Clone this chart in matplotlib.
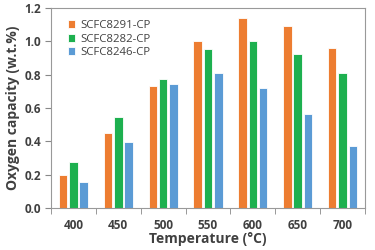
import matplotlib
matplotlib.use("Agg")
import matplotlib.pyplot as plt
import numpy as np

temps = ["400", "450", "500", "550", "600", "650", "700"]
s8291 = [0.20, 0.45, 0.73, 1.00, 1.14, 1.09, 0.96]
s8282 = [0.275, 0.545, 0.775, 0.955, 1.00, 0.925, 0.81]
s8246 = [0.155, 0.395, 0.745, 0.81, 0.72, 0.565, 0.375]
labels = ["SCFC8291-CP", "SCFC8282-CP", "SCFC8246-CP"]
colors = ["#ED7D31", "#1DB04F", "#5B9BD5"]

plt.rcParams['font.family'] = ['Open Sans', 'DejaVu Sans']
txt = "#404040"

fig = plt.figure(figsize=(3.75, 2.5), dpi=100)
ax = fig.add_axes([0.136, 0.168, 0.837, 0.80])

x = np.arange(len(temps))
w = 0.19
step = 0.23
for i, (vals, lab, c) in enumerate(zip([s8291, s8282, s8246], labels, colors)):
    ax.bar(x + (i - 1) * step, vals, width=w, color=c, label=lab,
           edgecolor="white", linewidth=0.6)

ax.set_xlim(-0.5, len(temps) - 0.5)
ax.set_ylim(0, 1.2)
ax.set_yticks(np.arange(0, 1.21, 0.2))
ax.set_yticklabels([f"{v:.1f}" for v in np.arange(0, 1.21, 0.2)])
ax.set_xticks(x)
ax.set_xticklabels(temps)
ax.set_xticks(np.arange(-0.5, len(temps), 1), minor=True)
ax.tick_params(axis='x', which='major', length=0, pad=8)
ax.tick_params(axis='x', which='minor', length=4, color="#888888")
ax.tick_params(axis='y', length=4, color="#888888", pad=3)
for lbl in ax.get_xticklabels() + ax.get_yticklabels():
    lbl.set_fontsize(8.5)
    lbl.set_fontweight('bold')
    lbl.set_color(txt)
for s in ax.spines.values():
    s.set_color("#999999")
    s.set_linewidth(0.8)

ax.set_xlabel("Temperature (\u00b0C)", fontsize=10, fontweight='bold', color=txt, labelpad=0)
ax.set_ylabel("Oxygen capacity (w.t.%)", fontsize=10, fontweight='bold', color=txt, labelpad=3)

leg = ax.legend(loc='upper left', frameon=False, fontsize=8.2, handlelength=0.7,
                handleheight=0.7, handletextpad=0.4, labelspacing=0.2,
                bbox_to_anchor=(0.02, 0.99))
for t in leg.get_texts():
    t.set_color(txt)

fig.savefig("out.png", dpi=100)
